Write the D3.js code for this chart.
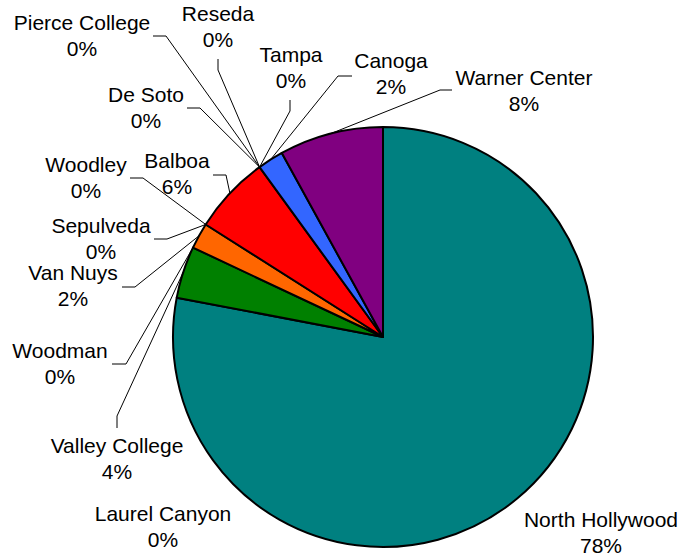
<!DOCTYPE html>
<html>
<head>
<meta charset="utf-8">
<script src="https://cdn.jsdelivr.net/npm/d3@7"></script>
<style>
  html, body { margin: 0; padding: 0; background: #fff; }
  svg { display: block; }
  text { font-family: "Liberation Sans", Arial, sans-serif; font-size: 21px; fill: #000; }
</style>
</head>
<body>
<svg id="chart" width="681" height="559"></svg>
<script>
// Share of visits by site, clockwise from 12 o'clock
const sites = ["North Hollywood", "Laurel Canyon", "Valley College", "Woodman", "Van Nuys",
               "Sepulveda", "Woodley", "Balboa", "De Soto", "Pierce College", "Reseda",
               "Tampa", "Canoga", "Warner Center"];
const shares = [78, 0, 4, 0, 2, 0, 0, 6, 0, 0, 0, 0, 2, 8];
const colors = ["#008080", "#008080", "#008000", "#008000", "#FF6600", "#FF6600", "#FF0000",
                "#FF0000", "#3366FF", "#3366FF", "#3366FF", "#3366FF", "#3366FF", "#800080"];

// Label placement: text centre / first baseline, and leader elbow points (null = no leader)
const labelLayout = {
  "North Hollywood": { x: 601, y: 527, leader: null },
  "Laurel Canyon":   { x: 163, y: 521, leader: null },
  "Valley College":  { x: 117, y: 453, leader: [[117, 428], [117, 416]] },
  "Woodman":         { x: 60,  y: 358, leader: [[112, 364], [126, 364]] },
  "Van Nuys":        { x: 73,  y: 280, leader: [[122, 287], [135, 287]] },
  "Sepulveda":       { x: 101, y: 233, leader: [[154, 239], [167, 239]] },
  "Woodley":         { x: 86,  y: 172, leader: [[130, 178], [143, 178]] },
  "Balboa":          { x: 177, y: 168, leader: [[213, 175], [226, 175]] },
  "De Soto":         { x: 146, y: 102, leader: [[187, 108], [200, 108]] },
  "Pierce College":  { x: 82,  y: 30,  leader: [[153, 36], [166, 36]] },
  "Reseda":          { x: 218, y: 21,  leader: [[218, 59], [218, 70]] },
  "Tampa":           { x: 291, y: 62,  leader: [[290, 100], [290, 111]] },
  "Canoga":          { x: 391, y: 68,  leader: [[352, 76], [338, 76]] },
  "Warner Center":   { x: 524, y: 85,  leader: [[452, 90], [440, 90]] }
};

const cx = 383, cy = 337, radius = 210, lineGap = 26;

const svg = d3.select("#chart");
const total = d3.sum(shares);

const pie = d3.pie().sort(null).value(i => shares[i]).startAngle(0).endAngle(2 * Math.PI);
const arcs = pie(d3.range(sites.length));
const arc = d3.arc().innerRadius(0).outerRadius(radius);

const g = svg.append("g").attr("transform", `translate(${cx},${cy})`);

// Slices
g.selectAll("path.slice")
  .data(arcs.filter(a => a.value > 0))
  .join("path")
  .attr("class", "slice")
  .attr("d", arc)
  .attr("fill", a => colors[a.data])
  .attr("stroke", "#000")
  .attr("stroke-width", 2)
  .attr("stroke-linejoin", "round");

// Leader lines: from label elbow to the slice's mid-angle on the rim
const line = d3.line();
arcs.forEach(a => {
  const lay = labelLayout[sites[a.data]];
  if (!lay.leader) return;
  const mid = (a.startAngle + a.endAngle) / 2;
  const rim = [cx + radius * Math.sin(mid), cy - radius * Math.cos(mid)];
  svg.append("path")
    .attr("d", line([...lay.leader, rim]))
    .attr("fill", "none")
    .attr("stroke", "#000")
    .attr("stroke-width", 1);
});

// Labels: name and rounded percentage
arcs.forEach(a => {
  const name = sites[a.data];
  const lay = labelLayout[name];
  const t = svg.append("text").attr("text-anchor", "middle");
  t.append("tspan").attr("x", lay.x).attr("y", lay.y).text(name);
  t.append("tspan").attr("x", lay.x).attr("y", lay.y + lineGap)
    .text(Math.round(a.value / total * 100) + "%");
});
</script>
</body>
</html>
